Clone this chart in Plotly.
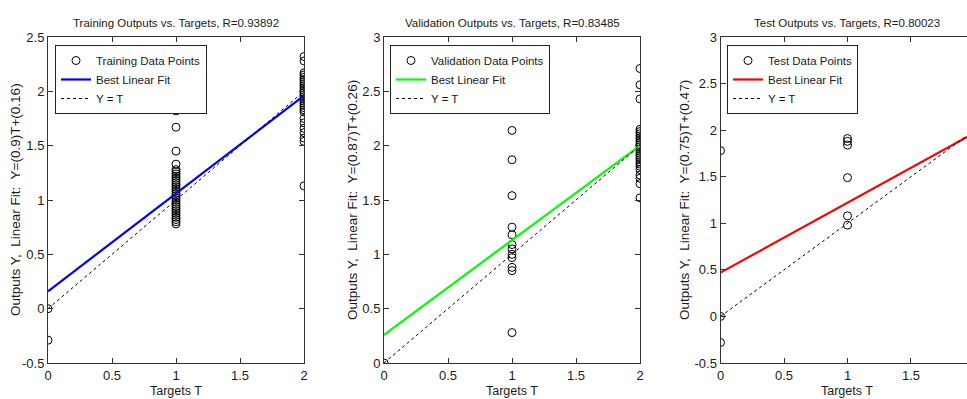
import plotly.graph_objects as go

W, H = 967, 399

# ---------------- data ----------------
train_t0 = [0.0, -0.29]
train_t1 = [1.82, 1.67, 1.45, 1.33, 1.28, 1.26, 1.24, 1.22, 1.20, 1.18, 1.16, 1.14, 1.12,
            1.10, 1.08, 1.06, 1.04, 1.02, 1.00, 0.98, 0.96, 0.94, 0.92, 0.90, 0.88, 0.86,
            0.84, 0.82, 0.80, 0.78]
train_t2 = [2.32, 2.28, 2.17, 2.15, 2.13, 2.11, 2.09, 2.07, 2.05, 2.03, 2.01, 1.99, 1.97,
            1.95, 1.93, 1.91, 1.89, 1.87, 1.85, 1.83, 1.81, 1.75, 1.71, 1.66, 1.62, 1.57,
            1.54, 1.13]

val_t0 = [0.0]
val_t1 = [2.14, 1.87, 1.54, 1.25, 1.18, 1.09, 1.05, 1.00, 0.97, 0.88, 0.85, 0.28]
val_t2 = [2.71, 2.56, 2.43, 2.15, 2.13, 2.11, 2.09, 2.07, 2.05, 2.03, 2.01, 1.99, 1.97,
          1.95, 1.93, 1.91, 1.89, 1.87, 1.85, 1.83, 1.81, 1.78, 1.73, 1.70, 1.65, 1.52]

test_t0 = [1.78, 0.0, -0.28]
test_t1 = [1.91, 1.88, 1.84, 1.49, 1.08, 0.98]
test_t2 = []

panel_names = ["Training", "Validation", "Test"]
r_values = ["0.93892", "0.83485", "0.80023"]
slopes = [0.9, 0.87, 0.75]
intercepts = [0.16, 0.26, 0.47]
slope_labels = ["0.9", "0.87", "0.75"]
intercept_labels = ["0.16", "0.26", "0.47"]
fit_colors = ["#0000FF", "#00FF00", "#FF0000"]
y_ranges = [[-0.5, 2.5], [0, 3], [-0.5, 3]]
x_ranges = [[0, 2], [0, 2], [0, 1.941]]
target_line = [0, 2]
x_ticks = [0, 0.5, 1, 1.5, 2]
x_ticktext = ["0", "0.5", "1", "1.5", "2"]

# ---------------- layout helpers ----------------
FONT = "Liberation Sans, Arial, sans-serif"
TXT = "#1a1a1a"
AX = "#333333"

# pixel positions of the axes boxes
box_px = [(48, 304), (384, 640), (720.5, 967)]
top_px, bot_px = 37, 363
title_cx_px = [176, 512, 847]
ytitle_x_px = [15, 352, 684]
legend_px = [(55, 45), (390, 45), (727, 45)]

def px_x(p):
    return p / W

def px_y(p):
    return 1 - p / H

panels = [
    (train_t0, train_t1, train_t2),
    (val_t0, val_t1, val_t2),
    (test_t0, test_t1, test_t2),
]

fig = go.Figure()
annotations = []
layout = {}

for i in range(3):
    sfx = "" if i == 0 else str(i + 1)
    xa, ya = "x" + sfx, "y" + sfx
    leg = "legend" + sfx
    t0, t1, t2 = panels[i]
    xs = [0] * len(t0) + [1] * len(t1) + [2] * len(t2)
    ys = list(t0) + list(t1) + list(t2)
    fig.add_trace(go.Scatter(
        x=xs, y=ys, mode="markers", xaxis=xa, yaxis=ya, legend=leg,
        name=panel_names[i] + " Data Points",
        marker=dict(symbol="circle-open", size=8, color="black", line=dict(width=1, color="black")),
    ))
    fx = target_line
    fy = [slopes[i] * v + intercepts[i] for v in fx]
    fig.add_trace(go.Scatter(
        x=fx, y=fy, mode="lines", xaxis=xa, yaxis=ya, legend=leg,
        name="Best Linear Fit", line=dict(color=fit_colors[i], width=2.2),
    ))
    fig.add_trace(go.Scatter(
        x=target_line, y=target_line, mode="lines", xaxis=xa, yaxis=ya, legend=leg,
        name="Y = T", line=dict(color="black", width=1, dash="3px,3px"),
    ))

    x0, x1 = box_px[i]
    layout["xaxis" + sfx] = dict(
        domain=[px_x(x0), min(px_x(x1), 1.0)], anchor=ya, range=x_ranges[i],
        tickvals=x_ticks, ticktext=x_ticktext, ticks="inside", ticklen=5, tickcolor=AX,
        showline=True, linecolor=AX, linewidth=1, mirror="ticks",
        showgrid=False, zeroline=False, automargin=False,
        tickfont=dict(family=FONT, size=13, color=TXT),
    )
    y0, y1 = y_ranges[i]
    yt = [v / 2 for v in range(int(y0 * 2), int(y1 * 2) + 1)]
    ytt = [("%g" % v) for v in yt]
    layout["yaxis" + sfx] = dict(
        domain=[px_y(bot_px), px_y(top_px)], anchor=xa, range=y_ranges[i],
        tickvals=yt, ticktext=ytt, ticks="inside", ticklen=5, tickcolor=AX,
        showline=True, linecolor=AX, linewidth=1, mirror="ticks" if i < 2 else False,
        showgrid=False, zeroline=False, automargin=False,
        tickfont=dict(family=FONT, size=13, color=TXT),
    )
    lx, ly = legend_px[i]
    layout[leg] = dict(
        x=px_x(lx), y=px_y(ly), xanchor="left", yanchor="top",
        xref="paper", yref="paper",
        bgcolor="white", bordercolor="#222", borderwidth=1,
        font=dict(family=FONT, size=11.5, color=TXT),
        tracegroupgap=0, itemwidth=30,
    )
    annotations.append(dict(
        text=f"{panel_names[i]} Outputs vs. Targets, R={r_values[i]}",
        x=px_x(title_cx_px[i]), y=px_y(23), xref="paper", yref="paper",
        xanchor="center", yanchor="middle", showarrow=False,
        font=dict(family=FONT, size=11.5, color=TXT),
    ))
    annotations.append(dict(
        text=f"Outputs Y,&nbsp; Linear Fit:&nbsp; Y=({slope_labels[i]})T+({intercept_labels[i]})",
        x=px_x(ytitle_x_px[i]), y=px_y((top_px + bot_px) / 2), xref="paper", yref="paper",
        xanchor="center", yanchor="middle", showarrow=False, textangle=-90,
        font=dict(family=FONT, size=13.5, color=TXT),
    ))
    annotations.append(dict(
        text="Targets T",
        x=px_x(title_cx_px[i]), y=px_y(391), xref="paper", yref="paper",
        xanchor="center", yanchor="middle", showarrow=False,
        font=dict(family=FONT, size=12.5, color=TXT),
    ))

fig.update_layout(
    width=W, height=H, margin=dict(l=0, r=0, t=0, b=0, autoexpand=False),
    paper_bgcolor="white", plot_bgcolor="white",
    showlegend=True, annotations=annotations, **layout,
)

fig.write_html(
    "out.html",
    config={"displayModeBar": False},
    post_script="document.body.style.margin='0';document.body.style.overflow='hidden';",
)
